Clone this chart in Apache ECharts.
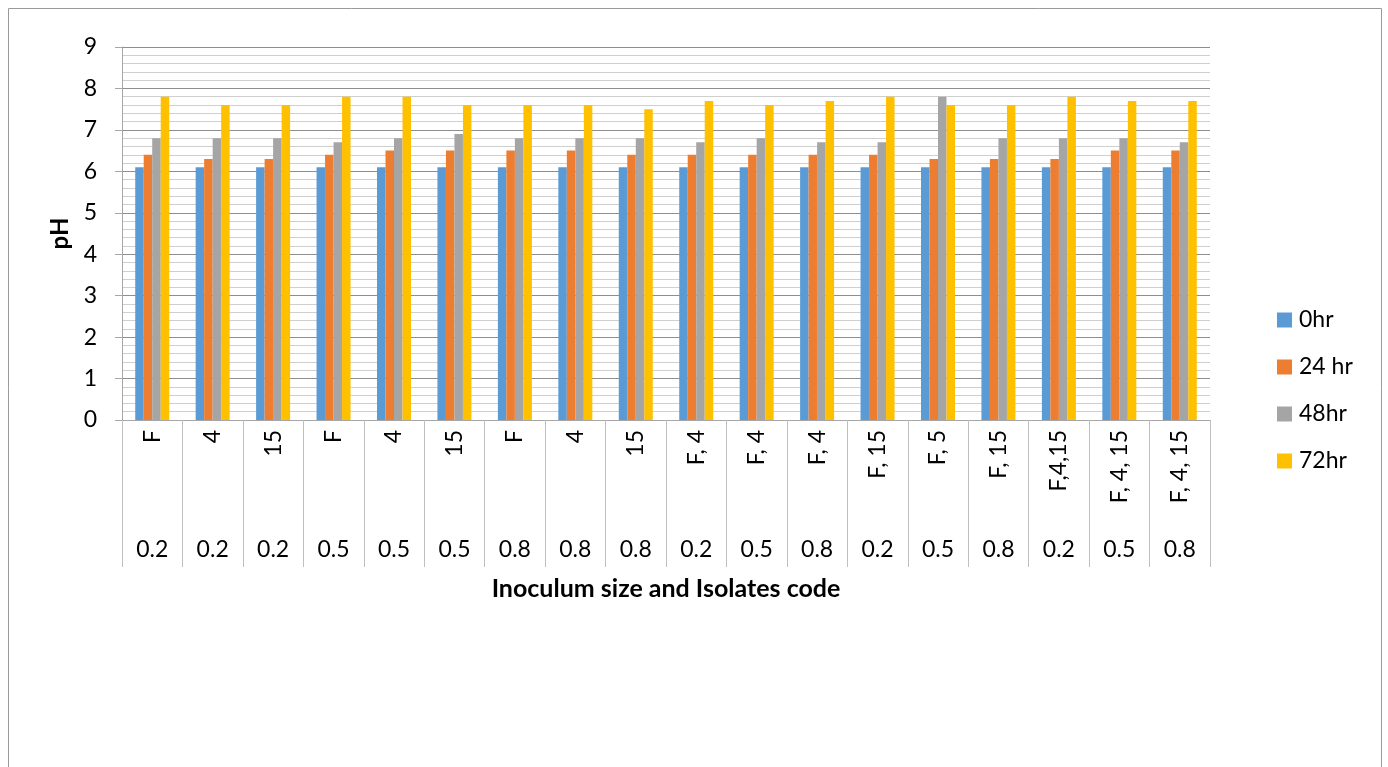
<!DOCTYPE html>
<html>
<head>
<meta charset="utf-8">
<script src="https://cdn.jsdelivr.net/npm/echarts@6/dist/echarts.min.js"></script>
<style>
  html, body { margin: 0; padding: 0; background: #fff; }
  #chart { width: 1388px; height: 767px; }
</style>
</head>
<body>
<div id="chart"></div>
<script>
// Isolate codes (inner category level) and inoculum sizes (outer level)
const isolates = ['F', '4', '15', 'F', '4', '15', 'F', '4', '15',
  'F, 4', 'F, 4', 'F, 4', 'F, 15', 'F, 5', 'F, 15', 'F,4,15', 'F, 4, 15', 'F, 4, 15'];
const inoculum = ['0.2', '0.2', '0.2', '0.5', '0.5', '0.5', '0.8', '0.8', '0.8',
  '0.2', '0.5', '0.8', '0.2', '0.5', '0.8', '0.2', '0.5', '0.8'];

// pH readings per incubation time
const ph0 = [6.1, 6.1, 6.1, 6.1, 6.1, 6.1, 6.1, 6.1, 6.1, 6.1, 6.1, 6.1, 6.1, 6.1, 6.1, 6.1, 6.1, 6.1];
const ph24 = [6.4, 6.3, 6.3, 6.4, 6.5, 6.5, 6.5, 6.5, 6.4, 6.4, 6.4, 6.4, 6.4, 6.3, 6.3, 6.3, 6.5, 6.5];
const ph48 = [6.8, 6.8, 6.8, 6.7, 6.8, 6.9, 6.8, 6.8, 6.8, 6.7, 6.8, 6.7, 6.7, 7.8, 6.8, 6.8, 6.8, 6.7];
const ph72 = [7.8, 7.6, 7.6, 7.8, 7.8, 7.6, 7.6, 7.6, 7.5, 7.7, 7.6, 7.7, 7.8, 7.6, 7.6, 7.8, 7.7, 7.7];

const seriesNames = ['0hr', '24 hr', '48hr', '72hr'];
const colors = ['#5B9BD5', '#ED7D31', '#A5A5A5', '#FFC000'];
const FONT = 'Lato, "Open Sans", sans-serif';

const chart = echarts.init(document.getElementById('chart'));

const seriesData = [ph0, ph24, ph48, ph72];

chart.setOption({
  animation: false,
  color: colors,
  textStyle: { fontFamily: FONT },
  graphic: [{
    type: 'rect',
    shape: { x: 8.5, y: 8.5, width: 1373, height: 780 },
    style: { fill: 'none', stroke: '#9a9a9a', lineWidth: 1 },
    silent: true
  }],
  grid: { left: 122, right: 178, top: 47, bottom: 347 },
  legend: {
    orient: 'vertical',
    left: 1277,
    top: 308,
    padding: 0,
    itemWidth: 15,
    itemHeight: 15,
    itemGap: 23,
    icon: 'rect',
    textStyle: { fontSize: 23, lineHeight: 24, color: '#000', fontFamily: FONT, padding: [0, 0, 0, 2] },
    data: seriesNames
  },
  xAxis: [{
    type: 'category',
    data: isolates,
    boundaryGap: true,
    axisLine: { show: true, lineStyle: { color: '#a6a6a6', width: 1 } },
    axisTick: { show: true, interval: 0, length: 147, lineStyle: { color: '#bfbfbf', width: 1 } },
    axisLabel: { interval: 0, rotate: 90, margin: 10, fontSize: 23, color: '#000', fontFamily: FONT }
  }, {
    type: 'category',
    data: inoculum,
    position: 'bottom',
    boundaryGap: true,
    axisLine: { show: false },
    axisTick: { show: false },
    axisLabel: { interval: 0, margin: 118, fontSize: 23, color: '#000', fontFamily: FONT },
    name: 'Inoculum size and Isolates code',
    nameLocation: 'middle',
    nameGap: 156,
    nameTextStyle: { fontSize: 25, fontWeight: 'bold', color: '#000', fontFamily: FONT }
  }],
  yAxis: {
    type: 'value',
    min: 0,
    max: 9,
    interval: 1,
    name: 'pH',
    nameLocation: 'middle',
    nameRotate: 90,
    nameGap: 48,
    nameTextStyle: { fontSize: 24, fontWeight: 'bold', color: '#000', fontFamily: FONT },
    axisLine: { show: true, lineStyle: { color: '#a6a6a6', width: 1 } },
    axisTick: { show: true, length: 7, lineStyle: { color: '#a6a6a6' } },
    axisLabel: { fontSize: 23, color: '#000', margin: 25, fontFamily: FONT },
    splitLine: { show: true, lineStyle: { color: '#8e8e8e', width: 1 } },
    minorTick: { show: false, splitNumber: 5 },
    minorSplitLine: { show: true, lineStyle: { color: '#cfcfcf', width: 1 } }
  },
  series: seriesNames.map((name, i) => ({
    name,
    type: 'bar',
    xAxisIndex: 0,
    data: seriesData[i],
    barWidth: 8.5,
    barGap: '0%',
    itemStyle: { color: colors[i] }
  }))
});
</script>
</body>
</html>
